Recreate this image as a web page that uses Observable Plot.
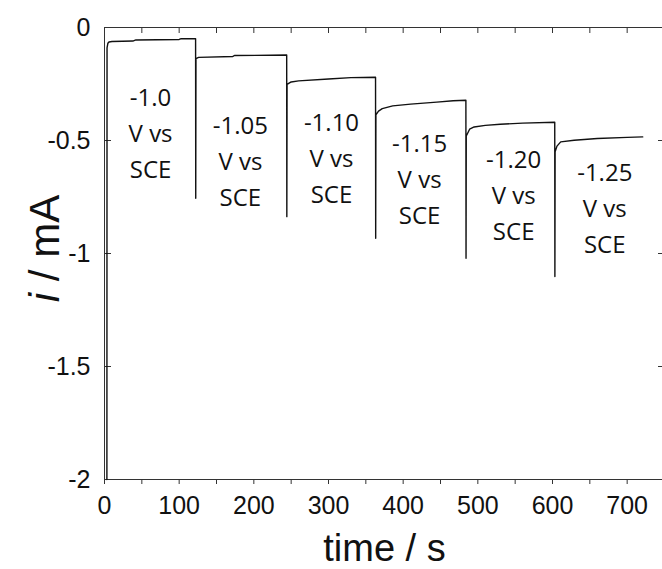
<!DOCTYPE html>
<html>
<head>
<meta charset="utf-8">
<script src="https://cdn.jsdelivr.net/npm/d3@7"></script>
<script src="https://cdn.jsdelivr.net/npm/@observablehq/plot@0.6"></script>
<style>
  html, body { margin: 0; padding: 0; background: #fff; }
</style>
</head>
<body>
<div id="chart"></div>
<script>
// Chronoamperometry trace: time (s) and current (mA)
const time = [
  3.2, 3.4, 4.5, 6, 10, 38, 42, 100, 102, 122,
  122.2, 122.5, 126, 172, 174, 244,
  244.2, 244.5, 250, 260, 300, 330, 363,
  363.2, 363.5, 367, 372, 386, 410, 445, 467, 484,
  484.2, 484.5, 489, 495, 510, 530, 560, 603,
  603.2, 603.5, 606, 611, 629, 660, 700, 720.8
];
const current = [
  -2.0, -0.09, -0.07, -0.064, -0.062, -0.060, -0.055, -0.053, -0.050, -0.050,
  -0.756, -0.138, -0.132, -0.128, -0.124, -0.122,
  -0.837, -0.252, -0.241, -0.236, -0.228, -0.222, -0.220,
  -0.933, -0.386, -0.370, -0.359, -0.347, -0.339, -0.330, -0.324, -0.322,
  -1.021, -0.480, -0.450, -0.440, -0.433, -0.428, -0.423, -0.419,
  -1.102, -0.550, -0.525, -0.506, -0.499, -0.491, -0.486, -0.484
];

// Potential-step annotations
const stepLabels = [
  "-1.0\nV vs\nSCE", "-1.05\nV vs\nSCE", "-1.10\nV vs\nSCE",
  "-1.15\nV vs\nSCE", "-1.20\nV vs\nSCE", "-1.25\nV vs\nSCE"
];
const labelTime = [61.7, 182, 304, 422, 548, 670];
const labelCurrent = [-0.455, -0.578, -0.565, -0.661, -0.731, -0.786];

// Tick values
const xTicks = [0, 50, 100, 150, 200, 250, 300, 350, 400, 450, 500, 550, 600, 650, 700];
const yTicks = [-2, -1.5, -1, -0.5, 0];

const trace = time.map((t, i) => ({t, v: current[i]}));
const notes = stepLabels.map((s, i) => ({s, t: labelTime[i], v: labelCurrent[i]}));

const chart = Plot.plot({
  width: 662,
  height: 569,
  marginLeft: 104,
  marginRight: -2,
  marginTop: 27,
  marginBottom: 90,
  style: {fontFamily: "'Liberation Sans', Arial, sans-serif", fontSize: "25px", background: "#fff", color: "#000"},
  x: {domain: [0, 750]},
  y: {domain: [-2, 0]},
  marks: [
    Plot.frame({stroke: "#333", strokeWidth: 1}),
    Plot.axisX(xTicks, {anchor: "bottom", tickSize: 5, tickPadding: 12, stroke: "#333",
      tickFormat: d => d % 100 === 0 ? String(d) : "", label: null, fontSize: 25, fill: "#111"}),
    Plot.axisX(xTicks, {anchor: "top", tickSize: -5, tickFormat: () => "", label: null, stroke: "#333"}),
    Plot.axisY(yTicks, {anchor: "left", tickSize: -7, tickPadding: 21, stroke: "#333",
      tickFormat: d => String(d), label: null, fontSize: 25, fill: "#111"}),
    Plot.axisY(yTicks, {anchor: "right", tickSize: -7, tickFormat: () => "", label: null, stroke: "#333"}),
    Plot.line(trace, {x: "t", y: "v", stroke: "#111", strokeWidth: 1.4}),
    Plot.text(notes, {x: "t", y: "v", text: "s", fontFamily: "'Open Sans', sans-serif",
      fontSize: 24, lineHeight: 1.5, fill: "#111", textAnchor: "middle", lineAnchor: "middle"}),
    Plot.text(["time / s"], {frameAnchor: "bottom", dy: 69, fontSize: 38, fill: "#111", lineAnchor: "middle"}),
    Plot.text(["i / mA"], {frameAnchor: "left", dx: -59, dy: -5, rotate: -90, fontSize: 42, fill: "#111",
      textAnchor: "middle", lineAnchor: "middle", className: "ytitle"})
  ]
});

document.getElementById("chart").appendChild(chart);

// italic "i" in the y-axis title
d3.select(chart).selectAll(".ytitle text").each(function () {
  const t = d3.select(this);
  t.text(null);
  t.append("tspan").attr("font-style", "italic").text("i");
  t.append("tspan").text(" / mA");
});
</script>
</body>
</html>
